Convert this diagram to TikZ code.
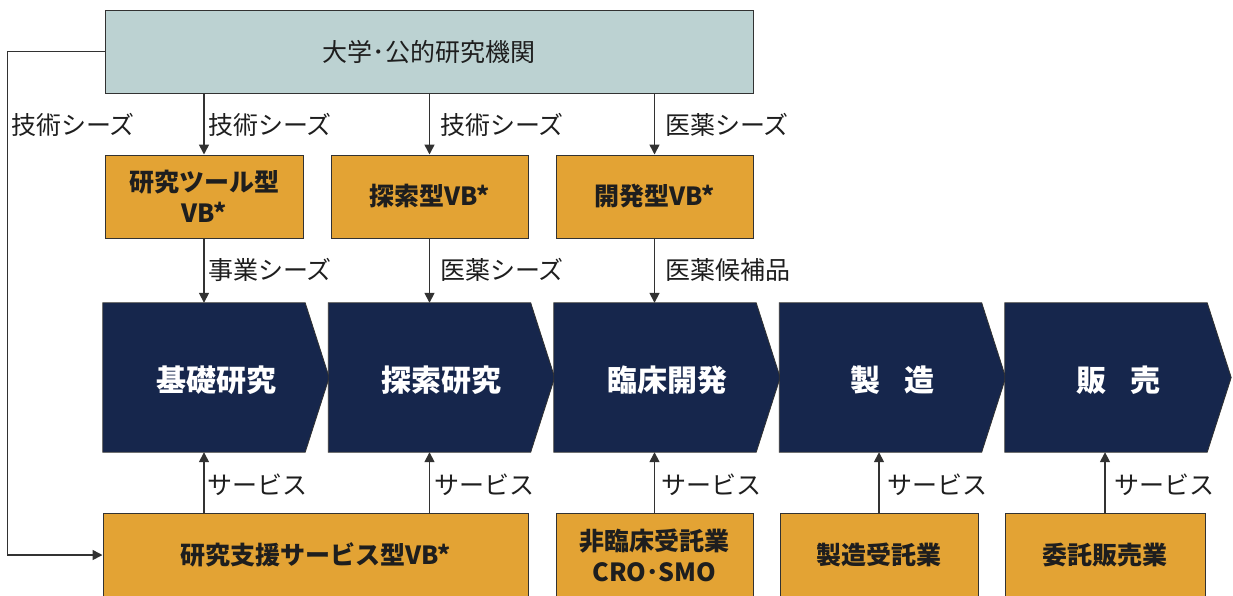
\documentclass[tikz,border=0pt]{standalone}
\usepackage{fontspec}
\setmainfont{Noto Sans CJK JP}
\usetikzlibrary{arrows.meta}
\definecolor{topfill}{RGB}{188,210,210}
\definecolor{orfill}{RGB}{227,163,52}
\definecolor{navy}{RGB}{22,38,76}
\definecolor{linec}{RGB}{50,50,50}
\definecolor{txt}{RGB}{30,30,30}
\begin{document}
\begin{tikzpicture}[x=1pt,y=-1pt,
  topbox/.style={draw=linec, line width=1pt, fill=topfill, minimum width=648pt, minimum height=83pt, inner sep=0pt, text=txt, font=\fontsize{25}{29}\selectfont},
  orbox/.style={draw=linec, line width=1pt, fill=orfill, minimum height=83pt, inner sep=0pt, align=center, text=txt, font=\fontsize{25}{31}\selectfont\bfseries},
  body/.style={minimum width=202pt, minimum height=149pt, inner sep=0pt},
  chev/.style={fill=navy, draw=linec, line width=0.8pt},
  chevtext/.style={text=white, font=\fontsize{30}{34}\selectfont\bfseries},
  lbl/.style={anchor=west, inner sep=0pt, text=txt, font=\fontsize{25}{29}\selectfont},
  arr/.style={draw=linec, line width=1.6pt, -{Triangle[length=10pt,width=10pt]}}
]
\useasboundingbox (0,0) rectangle (1233,595);

% top box
\node[topbox] (T) at (429,51.5) {大学･公的研究機関};

% middle boxes
\node[orbox, minimum width=198pt] (M1) at (204,196.5) {研究ツール型\\VB*};
\node[orbox, minimum width=197pt] (M2) at (429.5,196.5) {探索型VB*};
\node[orbox, minimum width=197pt] (M3) at (654.5,196.5) {開発型VB*};

% chevrons
\foreach \n/\x/\t in {1/204/基礎研究, 2/429.5/探索研究, 3/655/臨床開発, 4/880.5/製\hspace{0.8em}造, 5/1106/販\hspace{0.8em}売}{
  \node[body] (C\n) at (\x,377.5) {};
  \draw[chev] (C\n.north west) -- (C\n.north east) -- ([xshift=24pt]C\n.east) -- (C\n.south east) -- (C\n.south west) -- cycle;
  \node[chevtext] (CT\n) at ([xshift=12pt,yshift=-3pt]C\n.center) {\t};
}

% bottom boxes
\node[orbox, minimum width=425pt] (B1) at (315.5,555) {研究支援サービス型VB*};
\node[orbox, minimum width=197pt] (B2) at (654.5,555) {非臨床受託業\\CRO･SMO};
\node[orbox, minimum width=198pt] (B3) at (879,555) {製造受託業};
\node[orbox, minimum width=200pt] (B4) at (1105,555) {委託販売業};

% arrows top -> middle
\draw[arr] (M1.north |- T.south) -- (M1.north);
\draw[arr] (M2.north |- T.south) -- (M2.north);
\draw[arr] (M3.north |- T.south) -- (M3.north);
% middle -> chevrons
\draw[arr] (M1.south) -- (M1.south |- C1.north);
\draw[arr] (M2.south) -- (M2.south |- C2.north);
\draw[arr] (M3.south) -- (M3.south |- C3.north);
% bottom -> chevrons
\draw[arr] (B1.north -| C1.north) -- (C1.south);
\draw[arr] (B1.north -| C2.north) -- (C2.south);
\draw[arr] (B2.north) -- (B2.north |- C3.south);
\draw[arr] (B3.north) -- (B3.north |- C4.south);
\draw[arr] (B4.north) -- (B4.north |- C5.south);
% left loop
\draw[arr] (T.west) -- ++(-97,0) |- (B1.west);

% labels
\node[lbl] (L0) at (11,125) {技術シーズ};
\node[lbl] (L1) at (208,125) {技術シーズ};
\node[lbl] (L2) at (440,125) {技術シーズ};
\node[lbl] (L3) at (665,125) {医薬シーズ};
\node[lbl] (L4) at (208,270) {事業シーズ};
\node[lbl] (L5) at (440,270) {医薬シーズ};
\node[lbl] (L6) at (665,270) {医薬候補品};
\node[lbl] (S1) at (207,485) {サービス};
\node[lbl] (S2) at (434,485) {サービス};
\node[lbl] (S3) at (661,485) {サービス};
\node[lbl] (S4) at (887,485) {サービス};
\node[lbl] (S5) at (1114,485) {サービス};
\end{tikzpicture}
\end{document}
